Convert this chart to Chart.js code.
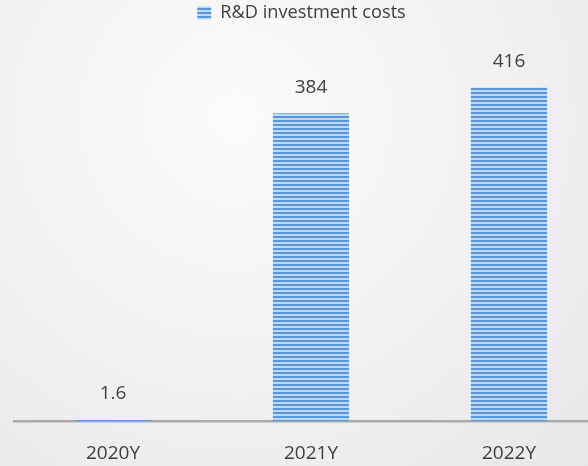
<!DOCTYPE html>
<html lang="en">
<head>
    <meta charset="UTF-8">
    <title>R&amp;D investment costs</title>
    <script src="https://cdn.jsdelivr.net/npm/chart.js"></script>
    <style>
        html, body {
            margin: 0;
            padding: 0;
            width: 588px;
            height: 466px;
            overflow: hidden;
            background: radial-gradient(ellipse at 40% 25%, #fbfbfb 0%, #f1f1f1 55%, #e7e7e7 100%);
        }
        #wrap {
            position: absolute;
            left: -5px;
            top: 0;
            width: 613px;
            height: 488px;
        }
    </style>
</head>
<body>
    <div id="wrap"><canvas id="grafico"></canvas></div>

    <script>
        const anos = ['2020Y', '2021Y', '2022Y'];
        const custos = [1.6, 384, 416];
        const rotulos = ['1.6', '384', '416'];
        const nomeSerie = 'R&D investment costs';

        const corTexto = '#404040';
        const fonte = "'Open Sans', 'Noto Sans', sans-serif";

        // listras horizontais das barras
        function criarListras() {
            const c = document.createElement('canvas');
            c.width = 4;
            c.height = 4;
            const ctx = c.getContext('2d');
            ctx.fillStyle = '#c0d9f3';
            ctx.fillRect(0, 0, 4, 4);
            ctx.fillStyle = '#5898da';
            ctx.fillRect(0, 0, 4, 2);
            return ctx.createPattern(c, 'repeat');
        }
        const listras = criarListras();

        const rotulosBarras = {
            id: 'rotulosBarras',
            afterDatasetsDraw(chart) {
                const ctx = chart.ctx;
                const meta = chart.getDatasetMeta(0);
                ctx.save();
                ctx.font = '19px ' + fonte;
                ctx.fillStyle = corTexto;
                ctx.textAlign = 'center';
                ctx.textBaseline = 'middle';
                meta.data.forEach((barra, i) => {
                    ctx.fillText(rotulos[i], barra.x, barra.y - 26);
                });
                ctx.restore();
            }
        };

        new Chart(document.getElementById('grafico'), {
            type: 'bar',
            data: {
                labels: anos,
                datasets: [{
                    label: nomeSerie,
                    data: custos,
                    backgroundColor: listras,
                    borderWidth: 0,
                    barPercentage: 0.385,
                    categoryPercentage: 1
                }]
            },
            options: {
                responsive: true,
                maintainAspectRatio: false,
                animation: false,
                layout: { padding: { left: 0, right: 0, top: 0, bottom: 2 } },
                plugins: {
                    tooltip: { enabled: false },
                    legend: {
                        position: 'top',
                        labels: {
                            boxWidth: 14,
                            boxHeight: 13,
                            padding: 4,
                            color: corTexto,
                            font: { family: fonte, size: 18.2 }
                        }
                    }
                },
                scales: {
                    x: {
                        grid: { display: false, drawTicks: false },
                        border: { display: true, color: '#ababab', width: 2.5 },
                        ticks: {
                            color: corTexto,
                            padding: 21,
                            font: { family: fonte, size: 19 }
                        }
                    },
                    y: {
                        min: 0,
                        max: 485,
                        grid: { display: false },
                        border: { display: false },
                        ticks: { display: false },
                        afterFit(scale) { scale.width = 19; }
                    }
                }
            },
            plugins: [rotulosBarras]
        });
    </script>
</body>
</html>
